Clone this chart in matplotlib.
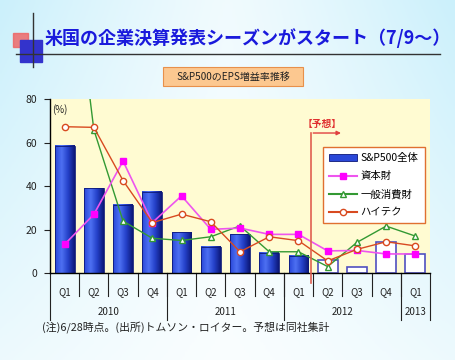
import numpy as np
import matplotlib.pyplot as plt
from matplotlib.colors import LinearSegmentedColormap
from matplotlib.lines import Line2D
from matplotlib.patches import Patch, Rectangle
import matplotlib.transforms as mtransforms

plt.rcParams['font.family'] = ['Noto Sans CJK JP', 'DejaVu Sans']

quarters = ['Q1', 'Q2', 'Q3', 'Q4'] * 3 + ['Q1']
years = ['2010', '2011', '2012', '2013']
year_spans = [(0, 3), (4, 7), (8, 11), (12, 12)]
sp500 = [58.5, 39.0, 31.3, 37.4, 18.8, 12.1, 17.9, 9.5, 8.1, 6.1, 2.9, 14.2, 9.0]
capital = [13.3, 27.1, 51.6, 23.3, 35.6, 20.2, 20.8, 17.9, 17.9, 10.3, 10.5, 8.9, 8.9]
consumer = [175.0, 66.0, 24.0, 16.1, 15.1, 16.8, 21.8, 9.9, 9.9, 3.1, 14.2, 21.7, 17.1]
hitech = [67.4, 67.1, 42.6, 23.3, 27.2, 23.7, 9.9, 16.8, 15.0, 5.7, 11.0, 14.5, 12.6]
n_actual = 9  # 2012 Q2以降は予想

fig = plt.figure(figsize=(4.55, 3.6), dpi=100)

# 背景のグラデーション
bg = fig.add_axes([0, 0, 1, 1])
gx = np.linspace(0, 1, 200)
gy = np.linspace(0, 1, 160)
X, Y = np.meshgrid(gx, gy)
f = np.clip(0.25 + 0.9 * np.abs(X - 0.5) ** 1.2 * 1.6, 0, 1) * (0.35 + 0.65 * (1 - Y))
cmap_bg = LinearSegmentedColormap.from_list('bg', ['#ffffff', '#c4eefb'])
bg.imshow(f, cmap=cmap_bg, extent=[0, 1, 0, 1], aspect='auto', vmin=0, vmax=1)
bg.set_xlim(0, 1)
bg.set_ylim(0, 1)
bg.axis('off')

# タイトル装飾
bg.add_patch(Rectangle((13 / 455, 1 - 47 / 360), 15 / 455, 14 / 360, color='#f06060', alpha=0.8))
bg.add_patch(Rectangle((20 / 455, 1 - 62 / 360), 22 / 455, 22 / 360, color='#3333cc'))
bg.plot([16 / 455, 440 / 455], [1 - 54 / 360] * 2, color='#333333', lw=1)
bg.plot([33 / 455] * 2, [1 - 13 / 360, 1 - 67 / 360], color='#333333', lw=1)
bg.text(45 / 455, 1 - 38 / 360, '米国の企業決算発表シーズンがスタート（7/9～）',
        fontsize=13, fontweight='bold', color='#1a1adc', va='center', ha='left')
bg.add_patch(Rectangle((163 / 455, 1 - 86 / 360), 140 / 455, 19 / 360, fc='#fcc890', ec='#e8904a', lw=0.8))
bg.text(233 / 455, 1 - 76.5 / 360, 'S&P500のEPS増益率推移', fontsize=7.2, ha='center', va='center',
        color='#222222')
bg.text(42 / 455, 1 - 327 / 360, '(注)6/28時点。(出所)トムソン・ロイター。予想は同社集計',
        fontsize=7.8, ha='left', va='center', color='#222222')

ax = fig.add_axes([50 / 455, 1 - 273.3 / 360, 380 / 455, 174 / 360])
ax.set_facecolor('#fffbd2')
x = np.arange(len(quarters))

# 棒グラフ（実績はグラデーション、予想は白抜き）
cmap_bar = LinearSegmentedColormap.from_list('bar', ['#2a48d8', '#4d70f2', '#2440c8', '#0c1878'])
w = 0.68
grad = np.linspace(0, 1, 50).reshape(1, -1)
for i in range(len(quarters)):
    if i < n_actual:
        ax.imshow(grad, cmap=cmap_bar, extent=[i - w / 2, i + w / 2, 0, sp500[i]],
                  aspect='auto', zorder=2)
        ax.add_patch(Rectangle((i - w / 2, 0), w, sp500[i], fill=False, ec='#0c1878', lw=0.6, zorder=2))
    else:
        ax.bar(i, sp500[i], width=w, color='white', edgecolor='#5050c0', lw=1.2, zorder=2)
ax.set_xlim(-0.5, len(quarters) - 0.5)
ax.set_ylim(0, 80)

ax.plot(x, consumer, color='#339933', lw=1, marker='^', ms=4.5, mfc='white', mec='#339933', zorder=3)
ax.plot(x, capital, color='#ee55ee', lw=1.2, marker='s', ms=4.5, mfc='#ff00ff', mec='#ff00ff', zorder=4)
ax.plot(x, hitech, color='#d84a20', lw=1, marker='o', ms=4.5, mfc='white', mec='#d84a20', zorder=5)

# 予想の区切り
xf = 8.43
ax.plot([xf, xf], [64.5, -4.5], color='#e06050', lw=1.2, clip_on=False, zorder=6)
ax.annotate('', xy=(9.55, 64.5), xytext=(xf - 0.02, 64.5),
            arrowprops=dict(arrowstyle='-|>', color='#e04040', lw=1, mutation_scale=6), zorder=6)
ax.text(8.8, 68.5, '【予想】', color='#e03030', fontsize=7, ha='center', va='center', fontweight='bold')
ax.text(0.005, 0.97, '(%)', transform=ax.transAxes, fontsize=7, ha='left', va='top', color='#222222')

# 軸
for s in ['top', 'right']:
    ax.spines[s].set_visible(False)
ax.spines['left'].set_linewidth(1)
ax.spines['bottom'].set_linewidth(1)
ax.set_yticks([0, 20, 40, 60, 80])
ax.tick_params(axis='y', labelsize=7.5, length=4, pad=5, direction='out', colors='#222222')
ax.set_xticks([])

trans = mtransforms.blended_transform_factory(ax.transData, ax.transAxes)
for b in np.arange(0.5, len(quarters) - 1, 1.0):
    ax.plot([b, b], [0, -0.13], transform=trans, color='#222222', lw=0.8, clip_on=False)
for i, q in enumerate(quarters):
    ax.text(i, -0.107, q, transform=trans, fontsize=7, ha='center', va='center', color='#222222')
for (a, b), yr in zip(year_spans, years):
    ax.text((a + b) / 2, -0.225, yr, transform=trans, fontsize=7, ha='center', va='center', color='#222222')
for b in [-0.5, 3.5, 7.5, 11.5, 12.5]:
    ax.plot([b, b], [0, -0.27], transform=trans, color='#222222', lw=0.8, clip_on=False)

handles = [Patch(fc='#2a48d8', ec='#0c1878', lw=0.6),
           Line2D([], [], color='#ee55ee', marker='s', ms=4.5, mfc='#ff00ff', mec='#ff00ff'),
           Line2D([], [], color='#339933', marker='^', ms=4.5, mfc='white', mec='#339933'),
           Line2D([], [], color='#d84a20', marker='o', ms=4.5, mfc='white', mec='#d84a20')]
labels = ['S&P500全体', '資本財', '一般消費財', 'ハイテク']
leg = ax.legend(handles, labels, loc='upper right', bbox_to_anchor=(1.0, 0.755), fontsize=7.5,
                frameon=True, fancybox=False, edgecolor='#e07030', framealpha=1,
                handlelength=2.6, labelspacing=0.75, borderpad=0.6, handletextpad=0.4)
leg.get_frame().set_linewidth(1)
leg.set_zorder(7)

fig.savefig('out.png', dpi=100)
